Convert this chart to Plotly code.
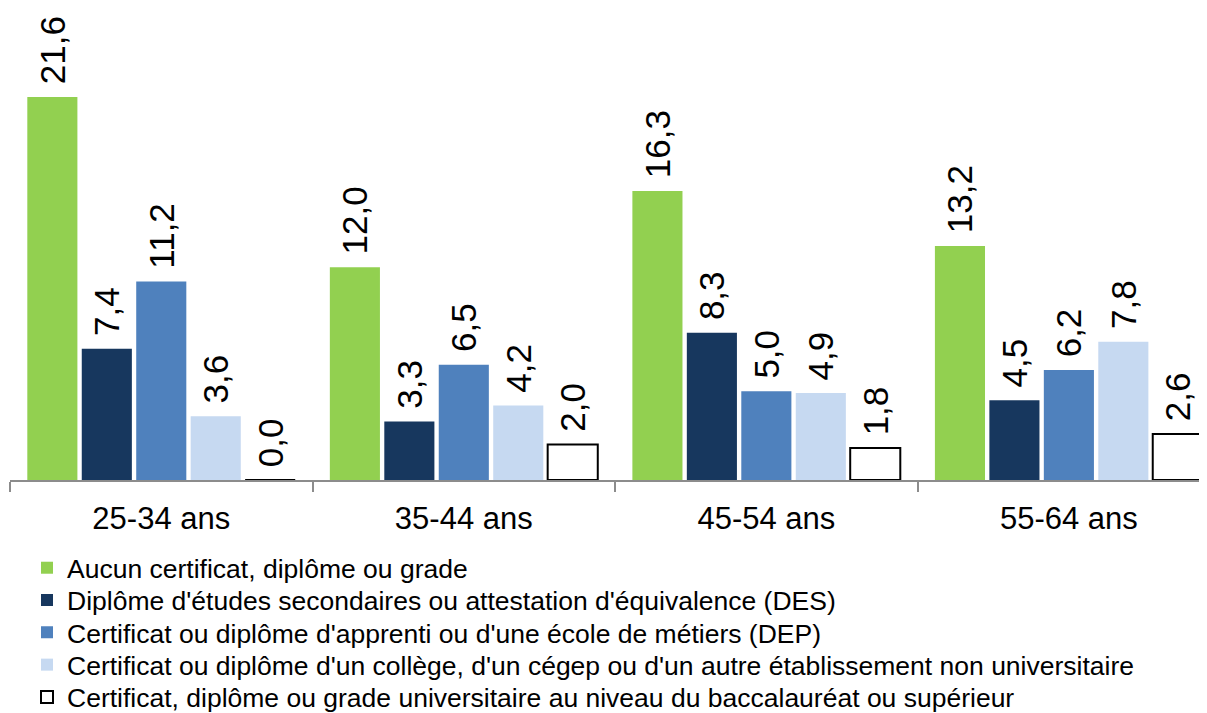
import plotly.graph_objects as go

# Données
groupes_age = ['25-34 ans', '35-44 ans', '45-54 ans', '55-64 ans']

aucun = [21.6, 12.0, 16.3, 13.2]
des = [7.4, 3.3, 8.3, 4.5]
dep = [11.2, 6.5, 5.0, 6.2]
college = [3.6, 4.2, 4.9, 7.8]
universitaire = [0.0, 2.0, 1.8, 2.6]

noms_series = [
    "Aucun certificat, diplôme ou grade",
    "Diplôme d'études secondaires ou attestation d'équivalence (DES)",
    "Certificat ou diplôme d'apprenti ou d'une école de métiers (DEP)",
    "Certificat ou diplôme d'un collège, d'un cégep ou d'un autre établissement non universitaire",
    "Certificat, diplôme ou grade universitaire au niveau du baccalauréat ou supérieur",
]
couleurs = ['#92D050', '#17375E', '#4F81BD', '#C6D9F1', '#FFFFFF']
valeurs = [aucun, des, dep, college, universitaire]

POLICE = "Liberation Sans, Arial, sans-serif"

fig = go.Figure()

# une légende par série pour contrôler l'espacement des lignes
legendes = ['legend', 'legend2', 'legend3', 'legend4', 'legend5']

for nom, couleur, vals, leg in zip(noms_series, couleurs, valeurs, legendes):
    # seule la dernière série a un contour noir
    if couleur == '#FFFFFF':
        contour = dict(color='black', width=2)
    else:
        contour = dict(width=0)
    fig.add_trace(go.Bar(
        x=groupes_age,
        y=vals,
        name=nom,
        legend=leg,
        marker=dict(color=couleur, line=contour),
        text=[f"{v:.1f}".replace('.', ',') for v in vals],
        texttemplate="\u00a0%{text}",
        textposition='outside',
        textangle=-90,
        constraintext='none',
        cliponaxis=False,
        textfont=dict(size=35, color='black', family=POLICE),
    ))

# la page html décale la figure de 8 px (marge du body)
layout_legendes = {}
for i, leg in enumerate(legendes):
    layout_legendes[leg] = dict(
        xref='container', yref='container',
        x=19 / 1207, y=1 - (560 + 32.3 * i) / 713,
        xanchor='left', yanchor='middle',
        font=dict(size=26.5, color='black'),
        bgcolor='rgba(0,0,0,0)',
    )

fig.update_layout(
    barmode='group',
    bargap=0.1,
    bargroupgap=0.08,
    width=1207,
    height=713,
    paper_bgcolor='white',
    plot_bgcolor='white',
    font=dict(family=POLICE, color='black'),
    margin=dict(l=2, r=0, t=0, b=241, autoexpand=False),
    showlegend=True,
    xaxis=dict(
        range=[-0.5, 3.483],
        showline=True,
        linecolor='#8C8C8C',
        linewidth=2,
        layer='above traces',
        ticks='outside',
        tickson='boundaries',
        ticklen=10,
        tickwidth=2,
        tickcolor='#8C8C8C',
        tickfont=dict(size=31, color='black'),
        ticklabelstandoff=10,
        tickangle=0,
        showgrid=False,
    ),
    yaxis=dict(
        range=[0, 26.62],
        visible=False,
        showgrid=False,
        zeroline=False,
    ),
    **layout_legendes,
)

fig.write_html("out.html")
